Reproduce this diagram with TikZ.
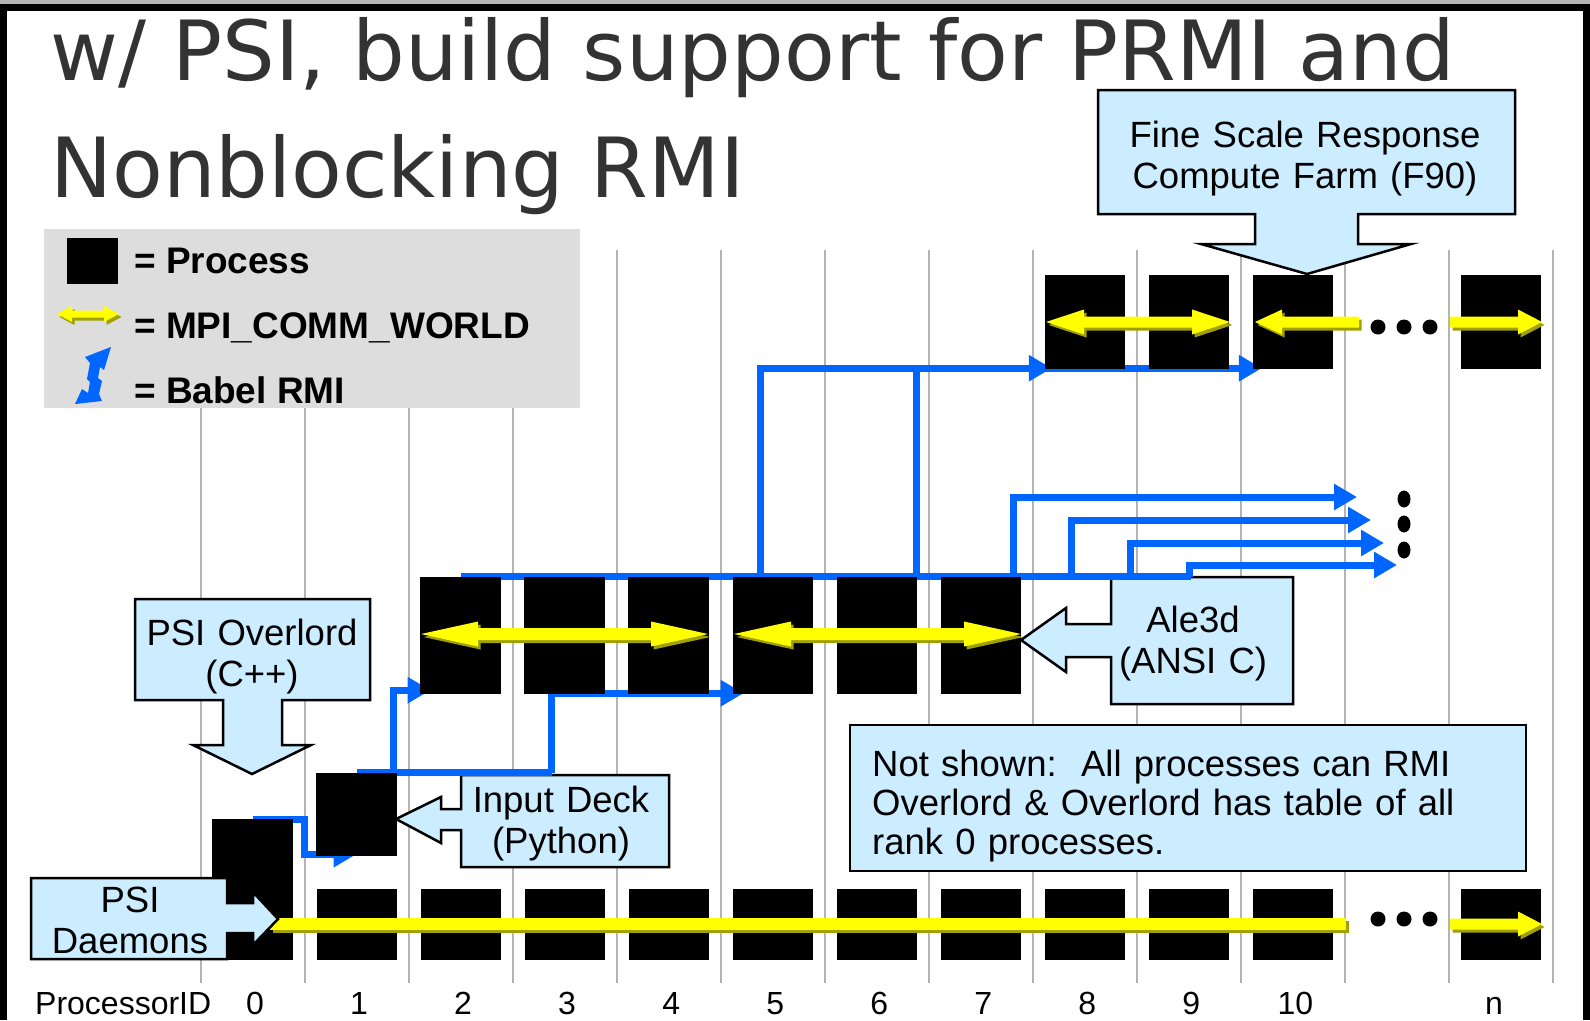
\documentclass[tikz,border=0pt]{standalone}
\usepackage{fontspec}
\setmainfont{Liberation Sans}
\newfontfamily\titlefont{DejaVu Sans}
\usetikzlibrary{arrows.meta}
\definecolor{rmiblue}{RGB}{0,102,255}
\definecolor{calloutfill}{RGB}{204,236,255}
\definecolor{gridgray}{RGB}{180,180,180}
\definecolor{legendgray}{RGB}{221,221,221}
\definecolor{mpiyellow}{RGB}{255,255,0}
\definecolor{mpishadow}{RGB}{160,160,0}
\definecolor{titlegray}{RGB}{51,51,51}
\tikzset{
  procbox/.style={fill=black, inner sep=0pt, minimum width=80pt},
  rmi/.style={draw=rmiblue, line width=7pt, -{Triangle[length=23pt,width=25pt]}},
  rmiline/.style={draw=rmiblue, line width=7pt},
  callout/.style={fill=calloutfill, draw=black, line width=2.5pt, line join=miter},
  ctext/.style={font=\fontsize{36.5}{41}\selectfont, inner sep=0pt, align=center, text width=420pt, anchor=base},
  lgtext/.style={font=\bfseries\fontsize{37}{40}\selectfont, inner sep=0pt, anchor=base west},
  lab/.style={font=\fontsize{32}{36}\selectfont, inner sep=0pt, anchor=base},
  gridline/.style={draw=gridgray, line width=2pt},
}
% yellow MPI arrows: xa, xb, y, head length, head half-height, shaft half-height
\newcommand{\mpidouble}[6]{%
  \foreach \dx/\dy/\col in {2.5/3/mpishadow,0/0/mpiyellow}{%
    \fill[\col, shift={(\dx,\dy)}] (#1,#3) -- (#1+#4,#3-#5) -- (#1+#4,#3-#6) -- (#2-#4,#3-#6) -- (#2-#4,#3-#5) -- (#2,#3) -- (#2-#4,#3+#5) -- (#2-#4,#3+#6) -- (#1+#4,#3+#6) -- (#1+#4,#3+#5) -- cycle;}}
\newcommand{\mpileft}[6]{%
  \foreach \dx/\dy/\col in {2.5/3/mpishadow,0/0/mpiyellow}{%
    \fill[\col, shift={(\dx,\dy)}] (#1,#3) -- (#1+#4,#3-#5) -- (#1+#4,#3-#6) -- (#2,#3-#6) -- (#2,#3+#6) -- (#1+#4,#3+#6) -- (#1+#4,#3+#5) -- cycle;}}
\newcommand{\mpiright}[6]{%
  \foreach \dx/\dy/\col in {2.5/3/mpishadow,0/0/mpiyellow}{%
    \fill[\col, shift={(\dx,\dy)}] (#1,#3-#6) -- (#2-#4,#3-#6) -- (#2-#4,#3-#5) -- (#2,#3) -- (#2-#4,#3+#5) -- (#2-#4,#3+#6) -- (#1,#3+#6) -- cycle;}}
\newcommand{\mpibar}[4]{%
  \foreach \dx/\dy/\col in {2.5/3/mpishadow,0/0/mpiyellow}{%
    \fill[\col, shift={(\dx,\dy)}] (#1,#3-#4) rectangle (#2,#3+#4);}}
\begin{document}
\begin{tikzpicture}[x=1pt,y=-1pt]
% canvas
\fill[white] (0,0) rectangle (1590,1020);
\useasboundingbox (0,0) rectangle (1590,1020);
% grid lines
\foreach \k in {0,...,13}{\draw[gridline] ({200.5+104.04*\k},250) -- ({200.5+104.04*\k},983);}
% legend
\fill[legendgray] (44,229) rectangle (580,408);
\fill[black] (67,238) rectangle (118,284);
\node[lgtext] (lgproc) at (134,273) {= Process};
\mpidouble{57}{119}{314}{15}{8}{3.5}
\node[lgtext] (lgmpi) at (134,338) {= MPI\_COMM\_WORLD};
\fill[rmiblue] (111,347) -- (104,370) -- (100,367) -- (98,378) -- (102,381) -- (99,394) -- (102,401) -- (75,404) -- (82,389) -- (88,393) -- (90,382) -- (87,379) -- (90,363) -- (85,357) -- cycle;
\node[lgtext] (lgrmi) at (134,403) {= Babel RMI};
% title
\node[anchor=base west, inner sep=0pt, text=titlegray, font=\titlefont\fontsize{83}{100}\selectfont] (title1) at (50,80) {w/ PSI, build support for PRMI and};
\node[anchor=base west, inner sep=0pt, text=titlegray, font=\titlefont\fontsize{83}{100}\selectfont] (title2) at (50,197) {Nonblocking RMI};
% callouts (behind the RMI lines)
\draw[callout] (1098,90) -- (1515,90) -- (1515,214) -- (1358,214) -- (1358,244) -- (1411,244) -- (1307,274) -- (1201,244) -- (1255,244) -- (1255,214) -- (1098,214) -- cycle;
\node[ctext] (farm) at (1305,147) {Fine Scale Response\\Compute Farm (F90)};
\draw[callout] (135,599) -- (370,599) -- (370,700) -- (282,700) -- (282,745) -- (311,745) -- (252,774) -- (193,745) -- (223,745) -- (223,700) -- (135,700) -- cycle;
\node[ctext] (overlord) at (252,645) {PSI Overlord\\(C++)};
\draw[callout] (461,775) -- (669,775) -- (669,867) -- (461,867) -- (461,830) -- (441,830) -- (441,843) -- (396,819) -- (441,797) -- (441,809) -- (461,809) -- cycle;
\node[ctext] (inputdeck) at (561,812) {Input Deck\\(Python)};
\draw[callout] (1111,577) -- (1293,577) -- (1293,704) -- (1111,704) -- (1111,657) -- (1066,657) -- (1066,672) -- (1021,640) -- (1066,608) -- (1066,624) -- (1111,624) -- cycle;
\node[ctext] (ale) at (1193,632) {Ale3d\\(ANSI C)};
\draw[callout] (850,725) rectangle (1526,871);
\node[ctext, align=left, text width=640pt, anchor=base west, font=\fontsize{36.5}{39}\selectfont] (notshown) at (872,776) {Not shown:\ \ All processes can RMI\\Overlord \& Overlord has table of all\\rank 0 processes.};
% process boxes (positions)
\coordinate (r1) at (1357,497);
\coordinate (r2) at (1371,520);
\coordinate (r3) at (1384,543);
\coordinate (r4) at (1397,565);
\path (252.5,854.5) node[procbox, minimum height=71pt, fill=none] (ovp) {};
\path (356.5,814.5) node[procbox, minimum height=83pt, fill=none] (inp) {};
\foreach \k in {2,...,7}{\path ({252.5+104.04*\k},635.5) node[procbox, minimum height=117pt, fill=none] (m\k) {};}
\foreach \k in {8,9,10,12}{\path ({252.5+104.04*\k},322) node[procbox, minimum height=94pt, fill=none] (t\k) {};}
% Babel RMI connectors
\draw[rmi] ([yshift=-1pt]ovp.north) -- ++(52,0) |- ([yshift=2pt]inp.south);
\draw[rmiline] (inp.north) -- ++(195,0);
\draw[rmi] ([xshift=36.5pt]inp.north) |- ([xshift=-30pt,yshift=4pt]m2.south);
\draw[rmi] ([xshift=195pt]inp.north) |- ([xshift=-29pt,yshift=1pt]m5.south);
\draw[rmiline] (m2.north) -- ++(730,0);
\draw[rmi] ([xshift=553pt]m2.north) |- (r1);
\draw[rmi] ([xshift=611pt]m2.north) |- (r2);
\draw[rmi] ([xshift=670pt]m2.north) |- (r3);
\draw[rmi] ([xshift=729pt]m2.north) |- (r4);
\draw[rmi] ([xshift=299.5pt]m2.north) |- ([xshift=-33pt,yshift=1pt]t8.south);
\draw[rmi] ([xshift=455.5pt]m2.north) |- ([xshift=-31pt,yshift=1pt]t10.south);
% process boxes (filled)
\foreach \n in {ovp,inp,m2,m3,m4,m5,m6,m7,t8,t9,t10,t12}{\fill[black] (\n.south west) rectangle (\n.north east);}
\foreach \k in {0,...,10,12}{\node[procbox, minimum height=71pt] (b\k) at ({252.5+104.04*\k},924.5) {};}
% MPI_COMM_WORLD arrows
\mpidouble{1046}{1230}{322}{38}{12.5}{5.5}
\mpileft{1255}{1359}{322}{27}{12.5}{5.5}
\mpiright{1450}{1542}{322}{24}{12.5}{5.5}
\mpidouble{421}{708}{634}{57}{12.5}{6}
\mpidouble{734}{1021}{634}{57}{12.5}{6}
\mpibar{270}{1346}{924}{6}
\mpiright{1450}{1542}{924}{24}{12.5}{5.5}
% ellipsis dots
\foreach \x in {1378,1404,1430}{\fill[black] (\x,327) circle (7.5); \fill[black] (\x,919) circle (7.5);}
\foreach \y in {499,524,550}{\fill[black] (1404,\y) ellipse (6.5 and 8.5);}
% PSI Daemons callout (over process 0)
\draw[callout] (31,878) -- (227,878) -- (227,903) -- (253,903) -- (253,892) -- (278,919) -- (253,945) -- (253,933) -- (227,933) -- (227,959) -- (31,959) -- cycle;
\node[ctext] (daemons) at (130,912) {PSI\\Daemons};
% processor IDs
\node[lab, anchor=base west] (pid) at (35,1014) {ProcessorID};
\foreach \k in {0,...,10}{\node[lab] (id\k) at ({255+104.04*\k},1014) {\k};}
\node[lab] (idn) at (1494,1014) {n};
% frame
\fill[gridgray] (0,0) rectangle (1590,3.5);
\fill[black] (0,4) rectangle (1590,11);
\fill[black] (0,4) rectangle (7,1020);
\fill[black] (1583,4) rectangle (1590,1020);
\end{tikzpicture}
\end{document}
